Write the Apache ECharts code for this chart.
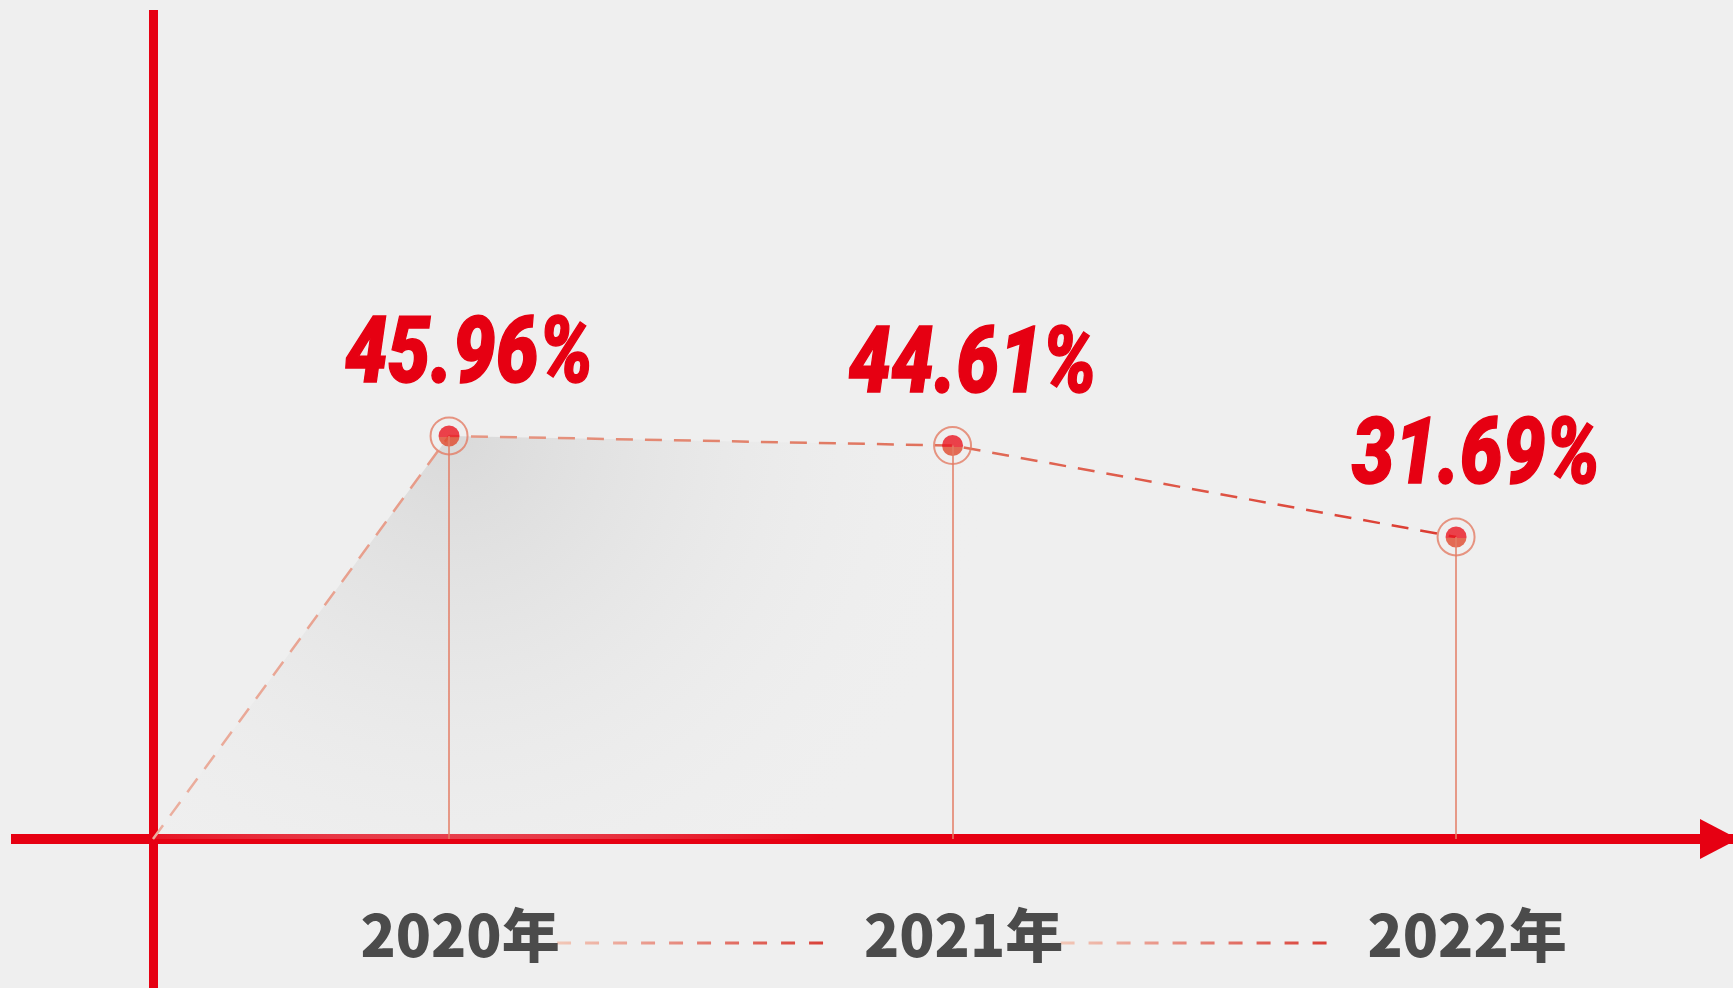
<!DOCTYPE html>
<html>
<head>
<meta charset="utf-8">
<script src="https://cdn.jsdelivr.net/npm/echarts@6/dist/echarts.min.js"></script>
<style>
html,body{margin:0;padding:0;background:#efefef;}
#c{width:1733px;height:988px;}
</style>
</head>
<body>
<div id="c"></div>
<script>
// ---- data ----
const YEARS = [2020, 2021, 2022];
const RATES = [45.96, 44.61, 31.69];
const YEAR_SUFFIX = '年';
// axis layout values (in data units)
const X_MIN = 2019.13, X_MAX = 2022.55, X_ORIGIN = 2019.412;
const Y_MIN = -32.03, Y_MAX = 106.14, Y_BASE = -10.98;

const RED = '#e60012';
const SALMON = '#e37c64';

const chart = echarts.init(document.getElementById('c'), null, {renderer: 'canvas'});

const lineData = [{value: [X_ORIGIN, Y_BASE], symbol: 'none'}]
  .concat(YEARS.map((y, i) => [y, RATES[i]]));
const pointData = YEARS.map((y, i) => [y, RATES[i]]);

const option = {
  backgroundColor: '#efefef',
  animation: false,
  grid: {left: 11, right: 0, top: 10, bottom: 0, containLabel: false},
  xAxis: {
    type: 'value', min: X_MIN, max: X_MAX,
    offset: -149,
    splitLine: {show: false},
    axisTick: {show: false},
    axisLine: {
      show: true, onZero: false,
      lineStyle: {color: RED, width: 10, cap: 'butt'},
      symbol: ['none', 'triangle'],
      symbolSize: [40, 38],
      symbolOffset: [0, -14]
    },
    axisLabel: {
      customValues: YEARS,
      formatter: v => v + YEAR_SUFFIX,
      margin: 67,
      padding: [0, 0, 0, 22],
      color: '#4b4b4b',
      fontSize: 58,
      fontWeight: 900,
      fontFamily: "'Noto Sans CJK SC', 'Noto Sans', sans-serif"
    }
  },
  yAxis: {
    type: 'value', min: Y_MIN, max: Y_MAX,
    offset: -142,
    splitLine: {show: false},
    axisTick: {show: false},
    axisLabel: {show: false},
    axisLine: {show: true, onZero: false, lineStyle: {color: RED, width: 9, cap: 'butt'}}
  },
  series: [
    {
      type: 'line',
      data: lineData,
      z: 2,
      symbol: 'none',
      lineStyle: {
        width: 2.5,
        type: [17, 12],
        color: new echarts.graphic.LinearGradient(0, 0, 1, 0, [
          {offset: 0, color: '#ebb0a0'},
          {offset: 0.5, color: '#e17d66'},
          {offset: 1, color: '#dc3a30'}
        ])
      },
      areaStyle: {
        origin: Y_BASE,
        color: new echarts.graphic.RadialGradient(0.23, 0.0, 1.35, [
          {offset: 0, color: 'rgba(208,208,208,1)'},
          {offset: 0.45, color: 'rgba(226,226,226,0.8)'},
          {offset: 1, color: 'rgba(239,239,239,0)'}
        ])
      }
    },
    {
      type: 'scatter',
      data: pointData,
      z: 3,
      symbol: 'circle',
      symbolSize: 37,
      itemStyle: {color: 'rgba(0,0,0,0)', borderColor: SALMON, borderWidth: 2},
      markLine: {
        silent: true,
        symbol: 'none',
        label: {show: false},
        lineStyle: {color: SALMON, width: 1.5, type: 'solid'},
        data: YEARS.map((y, i) => [{coord: [y, RATES[i]]}, {coord: [y, Y_BASE]}])
      }
    },
    {
      type: 'scatter',
      data: pointData,
      z: 4,
      symbol: 'circle',
      symbolSize: 21,
      itemStyle: {
        color: new echarts.graphic.LinearGradient(0, 0, 0, 1, [
          {offset: 0, color: '#ea1520'},
          {offset: 0.55, color: '#ea1520'},
          {offset: 0.56, color: '#e0482c'},
          {offset: 1, color: '#e0482c'}
        ])
      }
    },
    {
      type: 'custom',
      data: pointData,
      z: 5,
      silent: true,
      renderItem: function (params, api) {
        const p = api.coord([api.value(0), api.value(1)]);
        return {
          type: 'text',
          x: p[0] + 20,
          y: p[1] - 77,
          scaleX: 0.82,
          style: {
            text: api.value(1).toFixed(2) + '%',
            x: 0, y: 0,
            align: 'center',
            verticalAlign: 'middle',
            fill: RED,
            fontSize: 93,
            fontStyle: 'italic',
            fontWeight: 900,
            fontFamily: 'Roboto, sans-serif',
            stroke: RED,
            lineWidth: 1.5
          }
        };
      }
    }
  ]
};
chart.setOption(option);

// dashed connectors between the year labels
const g = [];
for (let i = 0; i < YEARS.length - 1; i++) {
  const a = chart.convertToPixel({xAxisIndex: 0, yAxisIndex: 0}, [YEARS[i], Y_BASE]);
  const b = chart.convertToPixel({xAxisIndex: 0, yAxisIndex: 0}, [YEARS[i + 1], Y_BASE]);
  g.push({
    type: 'line',
    silent: true,
    shape: {x1: a[0] + 108, y1: a[1] + 104, x2: b[0] - 118, y2: b[1] + 104},
    style: {
      lineWidth: 3,
      lineDash: [14, 14],
      stroke: new echarts.graphic.LinearGradient(0, 0, 1, 0, [
        {offset: 0, color: '#f2c9b9'},
        {offset: 1, color: '#d83a32'}
      ])
    }
  });
}
chart.setOption({graphic: g});
</script>
</body>
</html>
